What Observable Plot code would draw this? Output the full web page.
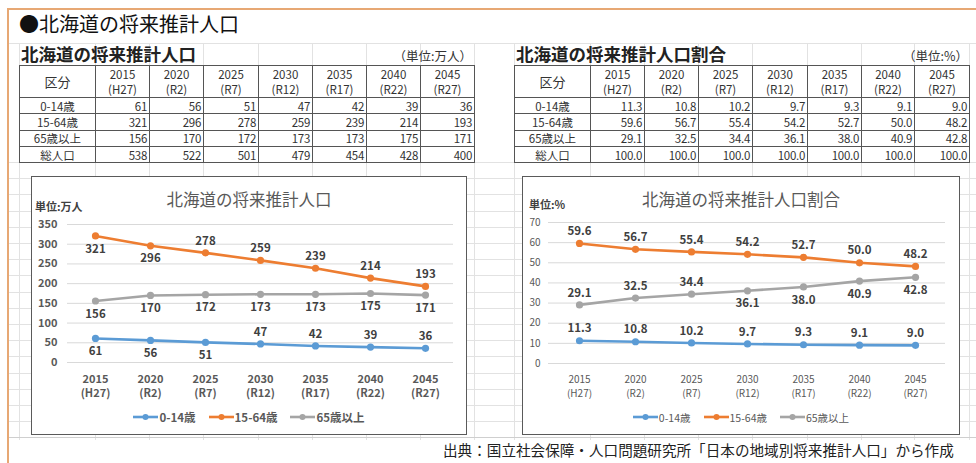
<!DOCTYPE html>
<html>
<head>
<meta charset="utf-8">
<script src="https://cdn.jsdelivr.net/npm/d3@7"></script>
<script src="https://cdn.jsdelivr.net/npm/@observablehq/plot@0.6"></script>
<style>
  body { margin: 0; background: #fff; }
  #page {
    position: relative; width: 976px; height: 463px; overflow: hidden; background: #fff;
    font-family: "Noto Sans CJK JP", "Noto Sans", sans-serif; color: #222;
  }
  .abs { position: absolute; }
  .sheet-rows {
    left: 9px; right: 0; top: 162px; height: 278px;
    background-image: repeating-linear-gradient(to bottom, #e2e2e2 0, #e2e2e2 1px, transparent 1px, transparent 16.2px);
  }
  .vline { width: 1px; background: #e2e2e2; top: 43px; height: 397px; }
  .hline { height: 1px; background: #e2e2e2; left: 9px; right: 0; }
  .frame-top { left: 7px; top: 8px; right: 0; height: 2px; background: #e7a874; }
  .frame-left { left: 7px; top: 8px; width: 2px; bottom: 0; background: #e7a874; }
  #title { left: 19px; top: 10px; font-size: 20px; line-height: 28px; color: #111; }
  .tcap { font-size: 17.5px; font-weight: bold; line-height: 22px; color: #222; }
  .unit { font-size: 12.5px; line-height: 14px; color: #333; text-align: right; }
  table.grid {
    position: absolute; border-collapse: collapse; table-layout: fixed;
    font-size: 11.5px; color: #333; background: #fff;
    border: 1.5px solid #444;
  }
  table.grid td { border: 1px solid #555; padding: 0 2px; height: 15.3px; line-height: 14px;
    text-align: right; white-space: nowrap; letter-spacing: -0.3px; }
  table.grid tr.head td { height: 31px; text-align: center; line-height: 15px; font-size: 11.5px; letter-spacing: 0; }
  table.grid td.lab { text-align: center; letter-spacing: 0; }
  table.grid tr.head td.lab { font-size: 13px; }
  .chartbox { background: #fff; }
  .chartborder { border: 1.5px solid #5a5a5a; box-sizing: border-box; pointer-events: none; }
  .ctitle { font-size: 16.5px; color: #595959; text-align: center; line-height: 20px; }
  .cunit { font-size: 11px; font-weight: bold; color: #404040; line-height: 12px; }
  .legend { display: flex; justify-content: center; align-items: center; gap: 13px; color: #595959; }
  .legend span.item { display: inline-flex; align-items: center; }
  #source { left: 443px; top: 441px; font-size: 14.6px; line-height: 18px; color: #222; white-space: nowrap; }
</style>
</head>
<body>
<div id="page">
  <div class="abs sheet-rows"></div>
  <div id="vlines"></div>
  <div class="abs hline" style="top:43px"></div>
  <div class="abs hline" style="top:437px;background:#cfcfcf"></div>
  <div class="abs frame-top"></div>
  <div class="abs frame-left"></div>

  <div id="title" class="abs">●北海道の将来推計人口</div>

  <div class="abs tcap" style="left:21px;top:43px">北海道の将来推計人口</div>
  <div class="abs unit" style="left:372px;width:100px;top:49px">（単位:万人）</div>
  <div class="abs tcap" style="left:516px;top:43px">北海道の将来推計人口割合</div>
  <div class="abs unit" style="left:868px;width:100px;top:49px">（単位:%）</div>

  <div id="tablePop"></div>
  <div id="tableShare"></div>

  <div class="abs chartbox" id="chartPop" style="left:31px;top:176px;width:436px;height:259px"></div>
  <div class="abs chartbox" id="chartShare" style="left:522px;top:176px;width:438px;height:259px"></div>

  <div id="source" class="abs">出典：国立社会保障・人口問題研究所「日本の地域別将来推計人口」から作成</div>
</div>

<script>
// Projection years and era names
const years = ["2015", "2020", "2025", "2030", "2035", "2040", "2045"];
const eras = ["H27", "R2", "R7", "R12", "R17", "R22", "R27"];
const groups = ["0-14歳", "15-64歳", "65歳以上"];
const totalLabel = "総人口";

// Population (10,000 persons)
const popYoung = [61, 56, 51, 47, 42, 39, 36];
const popWorking = [321, 296, 278, 259, 239, 214, 193];
const popElderly = [156, 170, 172, 173, 173, 175, 171];
const popTotal = [538, 522, 501, 479, 454, 428, 400];

// Share of population (%)
const shareYoung = [11.3, 10.8, 10.2, 9.7, 9.3, 9.1, 9.0];
const shareWorking = [59.6, 56.7, 55.4, 54.2, 52.7, 50.0, 48.2];
const shareElderly = [29.1, 32.5, 34.4, 36.1, 38.0, 40.9, 42.8];
const shareTotal = [100.0, 100.0, 100.0, 100.0, 100.0, 100.0, 100.0];

// Axis ticks
const popTicks = [0, 50, 100, 150, 200, 250, 300, 350];
const shareTicks = [0, 10, 20, 30, 40, 50, 60, 70];

// Data-label placement per point: 1 = above the point, -1 = below
const popLabelSide = [
  [-1, -1, -1, 1, 1, 1, 1],
  [-1, -1, 1, 1, 1, 1, 1],
  [-1, -1, -1, -1, -1, -1, -1]
];
const shareLabelSide = [
  [1, 1, 1, 1, 1, 1, 1],
  [1, 1, 1, 1, 1, 1, 1],
  [1, 1, 1, -1, -1, -1, -1]
];

const seriesColors = ["#5b9bd5", "#ed7d31", "#a5a5a5"];
const fontFamily = '"Noto Sans CJK JP", "Noto Sans", sans-serif';

// Spreadsheet column lines behind everything
const columnLines = [19, 95, 149, 203, 258, 312, 366, 420, 474, 514, 590, 644, 698, 752, 807, 861, 914, 969];
const vl = document.getElementById("vlines");
for (const x of columnLines) {
  const d = document.createElement("div");
  d.className = "abs vline";
  d.style.left = x + "px";
  vl.appendChild(d);
}

// Tables
function buildTable(host, left, widths, rows, fmt) {
  const t = document.createElement("table");
  t.className = "grid";
  t.style.left = left + "px";
  t.style.top = "65px";
  t.style.width = widths.reduce((a, b) => a + b, 0) + "px";
  const cg = document.createElement("colgroup");
  for (const w of widths) {
    const c = document.createElement("col");
    c.style.width = w + "px";
    cg.appendChild(c);
  }
  t.appendChild(cg);
  const head = document.createElement("tr");
  head.className = "head";
  head.innerHTML = `<td class="lab">区分</td>` + years.map((y, i) => `<td>${y}<br>(${eras[i]})</td>`).join("");
  t.appendChild(head);
  for (const [label, vals] of rows) {
    const tr = document.createElement("tr");
    tr.innerHTML = `<td class="lab">${label}</td>` + vals.map(v => `<td>${fmt(v)}</td>`).join("");
    t.appendChild(tr);
  }
  document.getElementById(host).appendChild(t);
}

buildTable("tablePop", 19, [76, 54, 54, 55, 54, 54, 54, 54],
  [[groups[0], popYoung], [groups[1], popWorking], [groups[2], popElderly], [totalLabel, popTotal]],
  v => String(v));
buildTable("tableShare", 514, [76, 54, 54, 54, 55, 54, 53, 55],
  [[groups[0], shareYoung], [groups[1], shareWorking], [groups[2], shareElderly], [totalLabel, shareTotal]],
  v => v.toFixed(1));

// Charts
function tidy(seriesValues, sides) {
  const rows = [];
  seriesValues.forEach((vals, s) => {
    vals.forEach((v, i) => rows.push({group: groups[s], year: years[i], value: v, side: sides[s][i]}));
  });
  return rows;
}

function lineChart(host, opts) {
  const data = tidy(opts.values, opts.sides);
  const chart = Plot.plot({
    width: opts.width,
    height: 259,
    marginLeft: opts.marginLeft,
    marginRight: opts.marginRight,
    marginTop: opts.marginTop,
    marginBottom: opts.marginBottom,
    style: {fontFamily, fontSize: opts.axisFont + "px", color: "#595959", background: "transparent"},
    x: {type: "point", domain: years, padding: 0.5},
    y: {domain: [0, opts.ticks[opts.ticks.length - 1]]},
    color: {domain: groups, range: seriesColors},
    marks: [
      Plot.gridY(opts.ticks, {stroke: "#d9d9d9", strokeOpacity: 1}),
      Plot.axisY(opts.ticks, {tickSize: 0, tickPadding: opts.yPad, label: null, fontWeight: opts.axisWeight}),
      Plot.axisX({
        tickSize: 0, tickPadding: 10, label: null, fontWeight: opts.axisWeight, lineHeight: opts.xLineHeight,
        tickFormat: d => `${d}\n(${eras[years.indexOf(d)]})`
      }),
      Plot.line(data, {x: "year", y: "value", z: "group", stroke: "group", strokeWidth: 2.6}),
      Plot.dot(data, {x: "year", y: "value", fill: "group", r: 3.6}),
      Plot.text(data.filter(d => d.side > 0), {
        x: "year", y: "value", text: d => opts.fmt(d.value), dy: -12,
        fontWeight: "bold", fontSize: opts.labelFont, fill: "#404040"
      }),
      Plot.text(data.filter(d => d.side < 0), {
        x: "year", y: "value", text: d => opts.fmt(d.value), dy: 13,
        fontWeight: "bold", fontSize: opts.labelFont, fill: "#404040"
      })
    ]
  });
  chart.style.position = "absolute";
  chart.style.left = "0px";
  chart.style.top = "0px";
  const box = document.getElementById(host);
  box.appendChild(chart);

  const title = document.createElement("div");
  title.className = "abs ctitle";
  title.style.left = "0px";
  title.style.width = opts.width + "px";
  title.style.top = "13px";
  title.textContent = opts.title;
  box.appendChild(title);

  const unit = document.createElement("div");
  unit.className = "abs cunit";
  unit.style.left = opts.unitLeft + "px";
  unit.style.top = opts.unitTop + "px";
  unit.textContent = opts.unit;
  box.appendChild(unit);

  const legend = document.createElement("div");
  legend.className = "abs legend";
  legend.style.left = "0px";
  legend.style.width = opts.width + "px";
  legend.style.top = "233px";
  legend.style.height = "16px";
  legend.style.fontSize = opts.legendFont + "px";
  legend.style.fontWeight = opts.axisWeight;
  groups.forEach((g, i) => {
    const item = document.createElement("span");
    item.className = "item";
    item.innerHTML =
      `<svg width="25" height="10" style="margin-right:1px"><line x1="0" y1="5" x2="25" y2="5" stroke="${seriesColors[i]}" stroke-width="2.6"/>` +
      `<circle cx="12.5" cy="5" r="3" fill="${seriesColors[i]}"/></svg>${g}`;
    legend.appendChild(item);
  });
  box.appendChild(legend);

  const border = document.createElement("div");
  border.className = "abs chartborder";
  border.style.left = "0px";
  border.style.top = "0px";
  border.style.width = opts.width + "px";
  border.style.height = "259px";
  box.appendChild(border);
}

lineChart("chartPop", {
  values: [popYoung, popWorking, popElderly],
  sides: popLabelSide,
  ticks: popTicks,
  width: 436, marginLeft: 36, marginRight: 14, marginTop: 48, marginBottom: 73,
  yPad: 10, axisFont: 11, axisWeight: "bold", labelFont: 11.5, legendFont: 11.5, xLineHeight: 1.28,
  fmt: v => String(v),
  title: "北海道の将来推計人口", unit: "単位:万人", unitLeft: 4, unitTop: 24
});

lineChart("chartShare", {
  values: [shareYoung, shareWorking, shareElderly],
  sides: shareLabelSide,
  ticks: shareTicks,
  width: 438, marginLeft: 26, marginRight: 15, marginTop: 46, marginBottom: 72,
  yPad: 8, axisFont: 10, axisWeight: "normal", labelFont: 11.5, legendFont: 10.5, xLineHeight: 1.35,
  fmt: v => v.toFixed(1),
  title: "北海道の将来推計人口割合", unit: "単位:%", unitLeft: 7, unitTop: 22
});
</script>
</body>
</html>
